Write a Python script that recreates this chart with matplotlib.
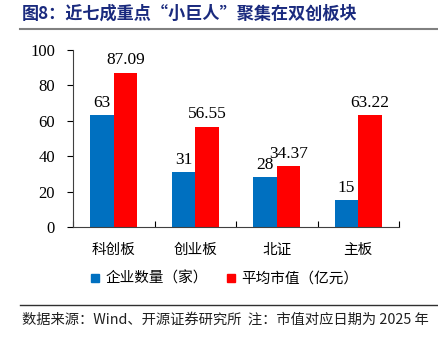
import numpy as np
import matplotlib
matplotlib.use("Agg")
import matplotlib.pyplot as plt
from matplotlib.lines import Line2D

plt.rcParams['font.family'] = ['Liberation Serif', 'Noto Sans CJK SC']

categories = ["科创板", "创业板", "北证", "主板"]
counts = [63, 31, 28, 15]
avg_cap = [87.09, 56.55, 34.37, 63.22]
count_labels = ["63", "31", "28", "15"]
cap_labels = ["87.09", "56.55", "34.37", "63.22"]

blue = "#0070C0"
red = "#FF0000"

fig = plt.figure(figsize=(4.38, 3.37), dpi=100)
ax = fig.add_axes([73/438, 1-227/337, (399-73)/438, (227-50)/337])

x = np.arange(len(categories))
w = 0.29
ax.bar(x - w/2, counts, w, color=blue)
ax.bar(x + w/2, avg_cap, w, color=red)

for xi, v, s in zip(x, counts, count_labels):
    ax.text(xi - w/2, v + 2.5, s, ha="center", va="bottom", fontsize=12.5)
for xi, v, s in zip(x, avg_cap, cap_labels):
    ax.text(xi + w/2, v + 2.5, s, ha="center", va="bottom", fontsize=12.5)

ax.set_xlim(-0.5, len(categories) - 0.5)
ax.set_ylim(0, 100)
ax.set_yticks([0, 20, 40, 60, 80, 100])
ax.tick_params(axis="y", labelsize=12, length=4, direction="out", pad=9)
ax.set_xticks(np.arange(len(categories) + 1) - 0.5, minor=False)
ax.set_xticklabels([])
ax.tick_params(axis="x", length=4, direction="in")
for xi, c in zip(x, categories):
    ax.text(xi, -9, c, ha="center", va="top", fontsize=10.5,
            family=['Noto Sans CJK SC'], transform=ax.transData)

for s in ["top", "right"]:
    ax.spines[s].set_visible(False)
for s in ["left", "bottom"]:
    ax.spines[s].set_color("#404040")

handles = [Line2D([], [], marker="s", ls="", color=blue, markersize=6),
           Line2D([], [], marker="s", ls="", color=red, markersize=6)]
leg = fig.legend(handles, ["企业数量（家）", "平均市值（亿元）"], loc="center",
                 bbox_to_anchor=(224/438, 1-279/337), ncol=2, frameon=False,
                 handlelength=0.8, handletextpad=0.3, columnspacing=1.2,
                 prop={"family": "Noto Sans CJK SC", "size": 10.5})

fig.text(22/438, 1-14/337, "图8：近七成重点“小巨人”聚集在双创板块", ha="left", va="center",
         fontsize=12.3, fontweight="bold", color="#1a2a7e", family=['Noto Sans CJK SC'])
fig.add_artist(Line2D([20/438, 1], [1-29/337, 1-29/337], color="#808080", lw=1.5))
fig.add_artist(Line2D([20/438, 1], [1-305/337, 1-305/337], color="#303030", lw=1.0))
fig.text(22/438, 1-320/337, "数据来源：Wind、开源证券研究所  注：市值对应日期为 2025 年",
         ha="left", va="center", fontsize=10.3, color="#202020",
         family=['Noto Sans CJK SC', 'Liberation Serif'])

fig.savefig("out.png", dpi=100)
